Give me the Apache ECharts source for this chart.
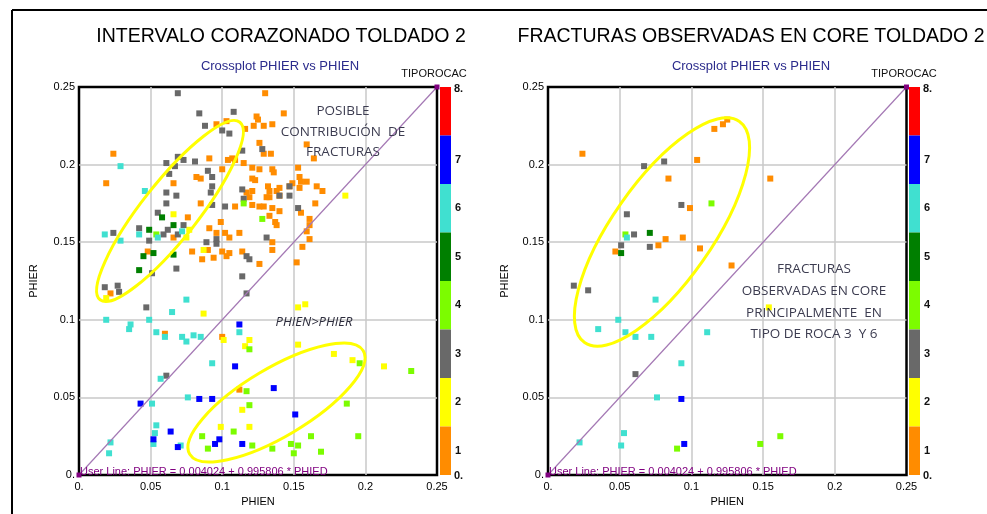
<!DOCTYPE html>
<html>
<head>
<meta charset="utf-8">
<script src="https://cdn.jsdelivr.net/npm/echarts/dist/echarts.min.js"></script>
<style>
  html, body { margin: 0; padding: 0; background: #fff; }
  #chart { width: 987px; height: 514px; }
</style>
</head>
<body>
<div id="chart"></div>
<script>
// rock types (TIPOROCAC) and their colours
var rockTypes = [1, 2, 3, 4, 5, 6, 7, 8];
var rockColors = ["#ff8c00", "#ffff00", "#696969", "#7cfc00", "#007f00", "#40e0d0", "#0000ff", "#ff0000"];
var rockLabels = ["1", "2", "3", "4", "5", "6", "7", " "];
var tickValues = [0, 0.05, 0.1, 0.15, 0.2, 0.25];

// left plot: intervalo corazonado, [PHIEN, PHIER] per rock type
var left1 = [[0.130,0.246],[0.096,0.226],[0.103,0.228],[0.124,0.231],[0.125,0.229],[0.122,0.225],[0.129,0.225],[0.135,0.226],[0.116,0.223],[0.143,0.233],
  [0.024,0.207],[0.019,0.188],[0.126,0.214],[0.129,0.207],[0.134,0.207],[0.159,0.213],[0.164,0.204],[0.091,0.204],[0.104,0.203],[0.107,0.204],
  [0.109,0.203],[0.115,0.201],[0.121,0.198],[0.126,0.197],[0.135,0.197],[0.136,0.195],[0.153,0.198],[0.100,0.197],[0.082,0.192],[0.085,0.191],
  [0.066,0.188],[0.121,0.191],[0.123,0.190],[0.149,0.188],[0.147,0.186],[0.154,0.192],[0.155,0.189],[0.159,0.189],[0.154,0.185],[0.166,0.186],
  [0.170,0.183],[0.121,0.183],[0.132,0.186],[0.133,0.183],[0.133,0.179],[0.131,0.179],[0.140,0.185],[0.138,0.183],[0.140,0.180],[0.117,0.182],
  [0.119,0.179],[0.085,0.175],[0.109,0.173],[0.121,0.174],[0.126,0.173],[0.129,0.173],[0.135,0.172],[0.140,0.170],[0.155,0.169],[0.165,0.175],
  [0.076,0.166],[0.099,0.163],[0.133,0.167],[0.137,0.163],[0.138,0.161],[0.161,0.165],[0.161,0.161],[0.159,0.157],[0.161,0.152],[0.091,0.159],
  [0.096,0.156],[0.102,0.156],[0.112,0.156],[0.066,0.153],[0.105,0.153],[0.135,0.150],[0.156,0.147],[0.079,0.144],[0.086,0.139],[0.090,0.145],
  [0.094,0.140],[0.100,0.144],[0.105,0.143],[0.114,0.144],[0.126,0.136],[0.135,0.145],[0.048,0.144],[0.152,0.137],[0.022,0.117],[0.103,0.141],
  [0.060,0.091],[0.100,0.089],[0.112,0.055]];
var left2 = [[0.066,0.168],[0.077,0.158],[0.075,0.153],[0.087,0.145],[0.186,0.180],[0.019,0.114],[0.087,0.104],[0.101,0.087],[0.116,0.083],[0.119,0.087],
  [0.114,0.042],[0.099,0.031],[0.119,0.031],[0.153,0.108],[0.158,0.110],[0.153,0.084],[0.178,0.078],[0.191,0.074],[0.213,0.070]];
var left3 = [[0.069,0.246],[0.084,0.233],[0.108,0.234],[0.088,0.225],[0.100,0.222],[0.105,0.220],[0.114,0.209],[0.128,0.210],[0.061,0.201],[0.069,0.205],
  [0.073,0.203],[0.067,0.199],[0.081,0.202],[0.090,0.196],[0.063,0.194],[0.093,0.192],[0.093,0.186],[0.061,0.182],[0.068,0.180],[0.092,0.182],
  [0.114,0.184],[0.115,0.178],[0.061,0.175],[0.093,0.174],[0.102,0.173],[0.147,0.186],[0.147,0.180],[0.140,0.180],[0.153,0.172],[0.055,0.169],
  [0.042,0.159],[0.062,0.158],[0.073,0.161],[0.024,0.156],[0.059,0.155],[0.069,0.155],[0.049,0.151],[0.089,0.150],[0.096,0.152],[0.096,0.149],
  [0.131,0.153],[0.117,0.141],[0.119,0.139],[0.068,0.133],[0.051,0.130],[0.114,0.128],[0.018,0.121],[0.027,0.122],[0.028,0.118],[0.117,0.117],
  [0.047,0.108],[0.061,0.064]];
var left4 = [[0.115,0.175],[0.128,0.165],[0.054,0.155],[0.086,0.025],[0.090,0.017],[0.108,0.028],[0.117,0.054],[0.119,0.045],[0.119,0.081],[0.121,0.019],
  [0.135,0.017],[0.148,0.020],[0.153,0.019],[0.150,0.014],[0.162,0.025],[0.169,0.015],[0.196,0.072],[0.187,0.046],[0.195,0.025],[0.232,0.067]];
var left5 = [[0.058,0.166],[0.066,0.161],[0.049,0.158],[0.045,0.141],[0.052,0.143],[0.066,0.142],[0.042,0.132]];
var left6 = [[0.029,0.199],[0.046,0.183],[0.072,0.157],[0.018,0.155],[0.042,0.155],[0.055,0.153],[0.029,0.151],[0.075,0.113],[0.065,0.105],[0.019,0.100],
  [0.049,0.100],[0.036,0.097],[0.035,0.094],[0.054,0.092],[0.060,0.089],[0.072,0.089],[0.075,0.086],[0.080,0.090],[0.085,0.089],[0.112,0.092],
  [0.093,0.072],[0.057,0.062],[0.076,0.050],[0.051,0.046],[0.054,0.032],[0.053,0.027],[0.052,0.020],[0.071,0.019],[0.022,0.021],[0.021,0.014]];
var left7 = [[0.112,0.097],[0.109,0.070],[0.043,0.046],[0.084,0.049],[0.093,0.049],[0.064,0.028],[0.052,0.023],[0.069,0.018],[0.095,0.020],[0.098,0.023],
  [0.114,0.020],[0.136,0.056],[0.151,0.039]];
var left8 = [];

// right plot: fracturas observadas en core
var right1 = [[0.024,0.207],[0.116,0.223],[0.122,0.226],[0.125,0.229],[0.104,0.203],[0.084,0.191],[0.099,0.172],[0.047,0.144],[0.077,0.148],[0.082,0.152],
  [0.094,0.153],[0.106,0.146],[0.128,0.135],[0.155,0.191]];
var right2 = [[0.154,0.108]];
var right3 = [[0.067,0.199],[0.081,0.202],[0.093,0.174],[0.055,0.168],[0.060,0.155],[0.051,0.148],[0.071,0.147],[0.018,0.122],[0.028,0.119],[0.061,0.065]];
var right4 = [[0.114,0.175],[0.054,0.155],[0.090,0.017],[0.148,0.020],[0.162,0.025]];
var right5 = [[0.071,0.156],[0.051,0.143]];
var right6 = [[0.055,0.153],[0.075,0.113],[0.049,0.100],[0.035,0.094],[0.054,0.092],[0.061,0.089],[0.072,0.089],[0.111,0.092],[0.093,0.072],[0.076,0.050],
  [0.053,0.027],[0.051,0.019],[0.022,0.021]];
var right7 = [[0.093,0.049],[0.095,0.020]];
var right8 = [];

// user line PHIER = PHIEN
var userLine = [[0, 0], [0.25, 0.25]];

function withType(groups) {
  var out = [];
  groups.forEach(function(g, i) {
    g.forEach(function(p) { out.push([p[0], p[1], rockTypes[i]]); });
  });
  return out;
}

function tickLabel(v) {
  return v === 0 ? "0." : String(parseFloat(v.toFixed(2)));
}

var labelStyle = { fontFamily: "Liberation Sans", fontSize: 11, color: "#000" };

function makeX(idx) {
  return {
    gridIndex: idx, type: "value", min: tickValues[0], max: tickValues[tickValues.length - 1], interval: 0.05,
    name: "PHIEN", nameLocation: "middle", nameGap: 18,
    nameTextStyle: { fontFamily: "Liberation Sans", fontSize: 11, color: "#000" },
    axisLine: { show: false }, axisTick: { show: false },
    axisLabel: Object.assign({ formatter: tickLabel, margin: 6 }, labelStyle),
    splitLine: { show: true, showMinLine: false, showMaxLine: false, lineStyle: { color: "#c8c8c8", width: 1.5 } }
  };
}
function makeY(idx, gap) {
  return {
    gridIndex: idx, type: "value", min: tickValues[0], max: tickValues[tickValues.length - 1], interval: 0.05,
    name: "PHIER", nameLocation: "middle", nameGap: gap, nameRotate: 90,
    nameTextStyle: { fontFamily: "Liberation Sans", fontSize: 11, color: "#000" },
    axisLine: { show: false }, axisTick: { show: false },
    axisLabel: Object.assign({ formatter: tickLabel, margin: 4 }, labelStyle),
    splitLine: { show: true, showMinLine: false, showMaxLine: false, lineStyle: { color: "#c8c8c8", width: 1.5 } }
  };
}
function colorScale(left, seriesIndex) {
  return {
    type: "piecewise", seriesIndex: seriesIndex, dimension: 2,
    orient: "vertical", left: left, top: 87, padding: 0,
    itemWidth: 11, itemHeight: 48.5, itemGap: 0, itemSymbol: "rect",
    align: "left", textGap: 4, selectedMode: false, hoverLink: false,
    textStyle: { fontFamily: "Liberation Sans", fontSize: 11, fontWeight: "bold", color: "#111" },
    pieces: rockTypes.map(function(t, i) {
      return { value: t, color: rockColors[i], label: rockLabels[i] };
    })
  };
}
function lineSeries(idx) {
  return {
    type: "line", xAxisIndex: idx, yAxisIndex: idx, data: userLine,
    symbol: "rect", symbolSize: 5, showSymbol: true, silent: true, z: 3,
    itemStyle: { color: "#800080" },
    lineStyle: { color: "#a478b4", width: 1.2 }
  };
}

function txt(x, y, text, size, color, extra) {
  return {
    type: "text", x: x, y: y, z: 100, silent: true,
    style: Object.assign({ text: text, fontFamily: "Liberation Sans", fontSize: size, fill: color,
      align: "center", verticalAlign: "middle" }, extra || {})
  };
}
function ellipse(cx, cy, rx, ry, deg) {
  return {
    type: "ellipse", x: cx, y: cy, rotation: deg * Math.PI / 180, z: 90, silent: true,
    shape: { cx: 0, cy: 0, rx: rx, ry: ry },
    style: { fill: "none", stroke: "#ffff00", lineWidth: 3 }
  };
}

var chart = echarts.init(document.getElementById("chart"));
var option = {
  animation: false,
  backgroundColor: "#fff",
  grid: [
    { left: 79, top: 87, width: 358, height: 388, show: true, borderColor: "#000", borderWidth: 2.5, backgroundColor: "transparent" },
    { left: 548, top: 87, width: 358.5, height: 388, show: true, borderColor: "#000", borderWidth: 2.5, backgroundColor: "transparent" }
  ],
  xAxis: [makeX(0), makeX(1)],
  yAxis: [makeY(0, 40), makeY(1, 38)],
  visualMap: [colorScale(440, 0), colorScale(909, 2)],
  series: [
    { type: "scatter", xAxisIndex: 0, yAxisIndex: 0, symbol: "rect", symbolSize: 6, z: 2,
      itemStyle: { opacity: 1 },
      data: withType([left1, left2, left3, left4, left5, left6, left7, left8]) },
    lineSeries(0),
    { type: "scatter", xAxisIndex: 1, yAxisIndex: 1, symbol: "rect", symbolSize: 6, z: 2,
      itemStyle: { opacity: 1 },
      data: withType([right1, right2, right3, right4, right5, right6, right7, right8]) },
    lineSeries(1)
  ],
  graphic: [
    { type: "line", silent: true, shape: { x1: 12, y1: 10, x2: 987, y2: 10 }, style: { stroke: "#000", lineWidth: 2 } },
    { type: "line", silent: true, shape: { x1: 12, y1: 10, x2: 12, y2: 514 }, style: { stroke: "#000", lineWidth: 2 } },
    txt(281, 37, "INTERVALO CORAZONADO TOLDADO 2", 19.5, "#000"),
    txt(751, 37, "FRACTURAS OBSERVADAS EN CORE TOLDADO 2", 19.5, "#000"),
    txt(280, 66, "Crossplot PHIER vs PHIEN", 13, "#2b2b8c"),
    txt(751, 66, "Crossplot PHIER vs PHIEN", 13, "#2b2b8c"),
    txt(434, 74, "TIPOROCAC", 11, "#111"),
    txt(904, 74, "TIPOROCAC", 11, "#111"),
    txt(454, 89, "8.", 11, "#111", { align: "left", fontWeight: "bold" }),
    txt(454, 476, "0.", 11, "#111", { align: "left", fontWeight: "bold" }),
    txt(923, 89, "8.", 11, "#111", { align: "left", fontWeight: "bold" }),
    txt(923, 476, "0.", 11, "#111", { align: "left", fontWeight: "bold" }),
    ellipse(170, 211, 113, 28, 51.8),
    ellipse(276.5, 402.5, 101, 34, 30.8),
    ellipse(662, 232, 135, 50, 55),
    txt(343, 132, "POSIBLE\nCONTRIBUCIÓN  DE\nFRACTURAS", 13.5, "#3c3c50", { fontFamily: "Open Sans", lineHeight: 20.5 }),
    txt(314, 322, "PHIEN>PHIER", 13, "#2c2c3c", { fontFamily: "Open Sans", fontStyle: "italic" }),
    txt(814, 302, "FRACTURAS\nOBSERVADAS EN CORE\nPRINCIPALMENTE  EN\nTIPO DE ROCA 3  Y 6", 13.5, "#3c3c50", { fontFamily: "Open Sans", lineHeight: 21.7 }),
    txt(80, 472, "User Line: PHIER = 0.004024 + 0.995806 * PHIED", 11, "#800080", { align: "left" }),
    txt(549, 472, "User Line: PHIER = 0.004024 + 0.995806 * PHIED", 11, "#800080", { align: "left" })
  ]
};
chart.setOption(option);
</script>
</body>
</html>
